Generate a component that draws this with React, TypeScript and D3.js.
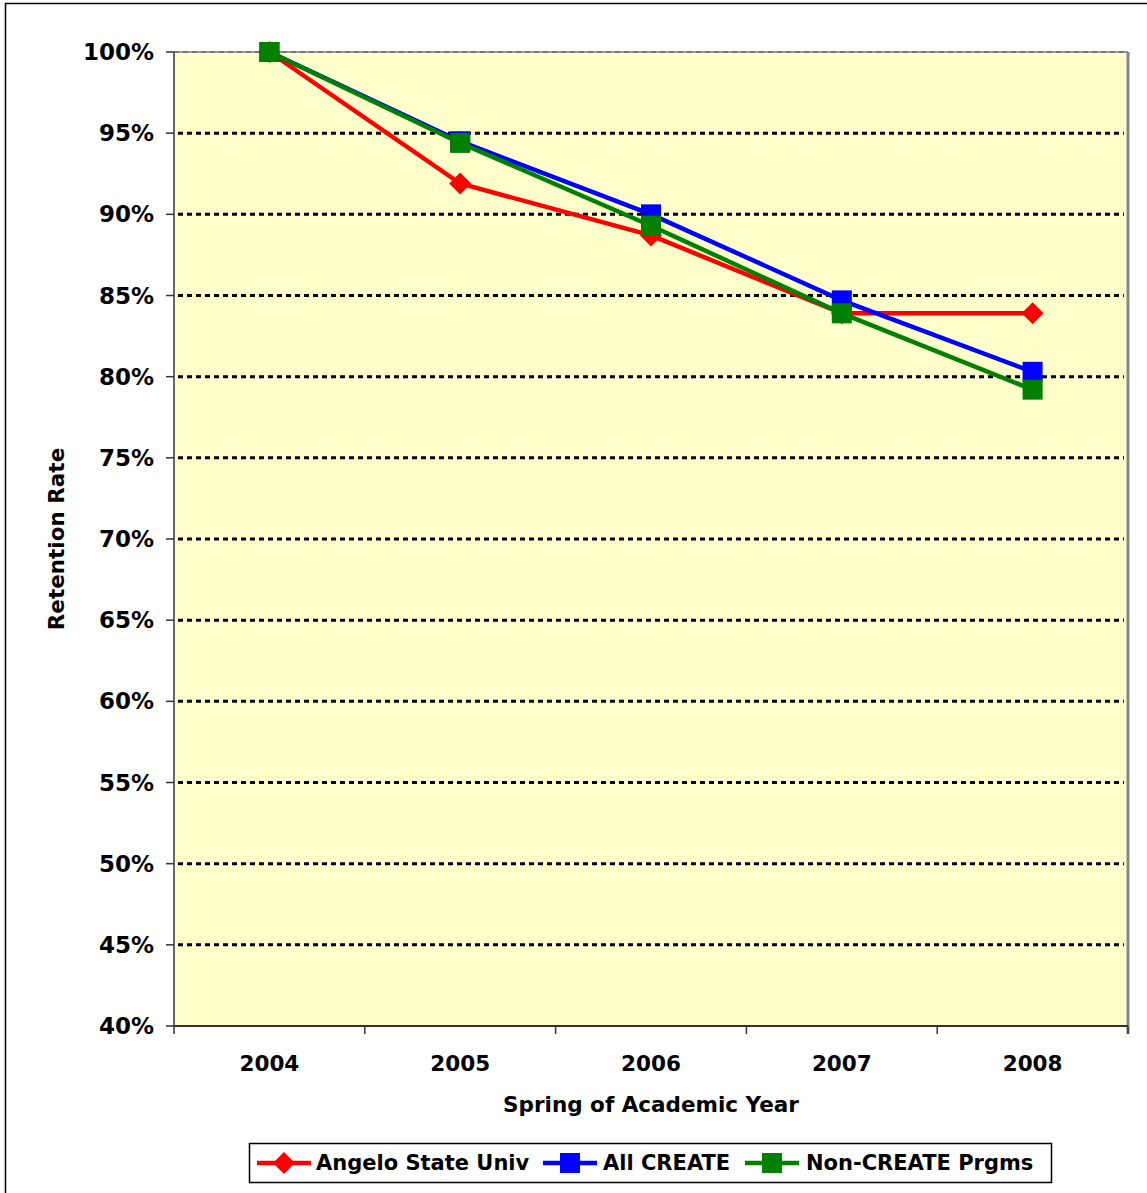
import * as d3 from "d3";

const years = ["2004", "2005", "2006", "2007", "2008"];
const angeloState = [1.0, 0.919, 0.887, 0.839, 0.839];
const allCreate = [1.0, 0.945, 0.9, 0.847, 0.803];
const nonCreate = [1.0, 0.944, 0.893, 0.839, 0.792];
const yTicks = [0.4, 0.45, 0.5, 0.55, 0.6, 0.65, 0.7, 0.75, 0.8, 0.85, 0.9, 0.95, 1.0];

const series = [
  { name: "Angelo State Univ", values: angeloState, color: "#ff0000", marker: "diamond" },
  { name: "All CREATE", values: allCreate, color: "#0000ff", marker: "square" },
  { name: "Non-CREATE Prgms", values: nonCreate, color: "#008000", marker: "square" },
];

const W = 1147;
const H = 1193;
const left = 174;
const right = 1128;
const top = 52;
const bottom = 1026;
const font = "'DejaVu Sans', Verdana, sans-serif";

function Marker({ kind, x, y, color }: { kind: string; x: number; y: number; color: string }) {
  if (kind === "diamond") {
    const s = 11;
    return (
      <path
        d={`M${x},${y - s}L${x + s},${y}L${x},${y + s}L${x - s},${y}Z`}
        fill={color}
      />
    );
  }
  const s = 10;
  return <rect x={x - s} y={y - s} width={s * 2} height={s * 2} fill={color} />;
}

export default function App() {
  const x = d3.scaleBand<string>().domain(years).range([left, right]).padding(0);
  const y = d3.scaleLinear().domain([0.4, 1]).range([bottom, top]);
  const cx = (yr: string) => (x(yr) ?? 0) + x.bandwidth() / 2;
  const line = d3
    .line<number>()
    .x((_, i) => cx(years[i]))
    .y((d) => y(d));
  const pct = d3.format(".0%");

  const legendItems = [
    { lx: 257, tx: 316 },
    { lx: 543, tx: 603 },
    { lx: 745, tx: 806 },
  ];

  return (
    <svg
      width={W}
      height={H}
      style={{ position: "absolute", left: 0, top: 0, background: "#fff" }}
      fontFamily={font}
    >
      {/* outer frame, cropped */}
      <rect x={5.5} y={3.5} width={W + 20} height={H + 20} fill="none" stroke="#000" strokeWidth={1.5} />

      {/* plot area */}
      <rect x={left} y={top} width={right - left} height={bottom - top} fill="#ffffcc" />

      {/* gridlines */}
      {yTicks
        .filter((t) => t > 0.41 && t < 0.99)
        .map((t) => (
          <line
            key={t}
            x1={left + 4}
            x2={right - 4}
            y1={y(t)}
            y2={y(t)}
            stroke="#000"
            strokeWidth={3}
            strokeDasharray="5 4"
          />
        ))}
      <line x1={left} x2={right} y1={top} y2={top} stroke="#999" strokeWidth={2} />
      <line x1={left} x2={right} y1={top} y2={top} stroke="#555" strokeWidth={1} strokeDasharray="5 4" />

      {/* plot border right */}
      <line x1={right} x2={right} y1={top} y2={bottom + 8} stroke="#888" strokeWidth={3} />

      {/* y axis */}
      <line x1={left} x2={left} y1={top} y2={bottom} stroke="#666" strokeWidth={2} />
      {yTicks.map((t) => (
        <g key={t}>
          <line x1={left - 8} x2={left} y1={y(t)} y2={y(t)} stroke="#333" strokeWidth={1.5} />
          <text
            x={left - 20}
            y={y(t)}
            textAnchor="end"
            dominantBaseline="central"
            fontSize={23}
            fontWeight="bold"
          >
            {pct(t)}
          </text>
        </g>
      ))}
      <text
        transform={`translate(64,${(top + bottom) / 2}) rotate(-90)`}
        textAnchor="middle"
        fontSize={21.5}
        fontWeight="bold"
      >
        Retention Rate
      </text>

      {/* x axis */}
      <line x1={left} x2={right} y1={bottom} y2={bottom} stroke="#333" strokeWidth={2} />
      {[...years.map((yr) => x(yr) ?? 0), right].map((px, i) => (
        <line key={i} x1={px} x2={px} y1={bottom} y2={bottom + 8} stroke="#333" strokeWidth={1.5} />
      ))}
      {years.map((yr) => (
        <text key={yr} x={cx(yr)} y={1071} textAnchor="middle" fontSize={21.5} fontWeight="bold">
          {yr}
        </text>
      ))}
      <text x={(left + right) / 2} y={1112} textAnchor="middle" fontSize={21.5} fontWeight="bold">
        Spring of Academic Year
      </text>

      {/* series */}
      {series.map((s) => (
        <g key={s.name}>
          <path d={line(s.values) ?? ""} fill="none" stroke={s.color} strokeWidth={4.5} />
          {s.values.map((v, i) => (
            <Marker key={i} kind={s.marker} x={cx(years[i])} y={y(v)} color={s.color} />
          ))}
        </g>
      ))}

      {/* legend */}
      <rect x={249.5} y={1143.5} width={802} height={39} fill="#fff" stroke="#000" strokeWidth={1.5} />
      {series.map((s, i) => {
        const it = legendItems[i];
        const ly = 1163;
        return (
          <g key={s.name}>
            <line x1={it.lx} x2={it.lx + 54} y1={ly} y2={ly} stroke={s.color} strokeWidth={4.5} />
            <Marker kind={s.marker} x={it.lx + 27} y={ly} color={s.color} />
            <text x={it.tx} y={ly} dominantBaseline="central" fontSize={21} fontWeight="bold">
              {s.name}
            </text>
          </g>
        );
      })}
    </svg>
  );
}
